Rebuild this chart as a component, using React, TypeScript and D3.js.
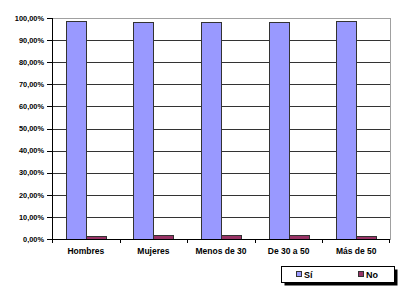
import React from "react";
import * as d3 from "d3";

const categories = ["Hombres", "Mujeres", "Menos de 30", "De 30 a 50", "Más de 50"];
const seriesNames = ["Sí", "No"];
const siValues = [98.8, 98.2, 98.2, 98.4, 98.8];
const noValues = [1.2, 1.8, 1.8, 1.6, 1.2];
const yTicks = [0, 10, 20, 30, 40, 50, 60, 70, 80, 90, 100];
const colors = ["#9999FF", "#993366"];

export default function App() {
  const W = 400, H = 291;
  const left = 52, right = 390, top = 18, bottom = 239;
  const x = d3.scaleBand<string>().domain(categories).range([left, right]).paddingInner(0).paddingOuter(0);
  const y = d3.scaleLinear().domain([0, 100]).range([bottom, top]);
  const barW = 20;
  const fmt = (v: number) => v.toFixed(2).replace(".", ",") + "%";
  const font = "'Liberation Sans', Arial, sans-serif";
  const series = [siValues, noValues];

  return (
    <svg width={W} height={H} style={{ position: "absolute", left: 0, top: 0, background: "#fff" }}>
      <rect x={left} y={top} width={right - left} height={bottom - top} fill="#fff" stroke="#A0A0A0" strokeWidth={1} shapeRendering="crispEdges" />
      {yTicks.filter(t => t > 0 && t < 100).map(t => (
        <line key={t} x1={left} x2={right} y1={Math.round(y(t)) + 0.5} y2={Math.round(y(t)) + 0.5} stroke="#333" strokeWidth={1} shapeRendering="crispEdges" />
      ))}
      {categories.map((c, i) => {
        const cx = (x(c) as number) + x.bandwidth() / 2;
        return series.map((s, j) => {
          const bx = cx - barW + j * barW;
          return (
            <rect key={c + j} x={Math.round(bx) + 0.5} y={Math.round(y(s[i])) + 0.5} width={barW}
              height={Math.round(bottom - y(s[i]))} fill={colors[j]} stroke="#333" strokeWidth={1} shapeRendering="crispEdges" />
          );
        });
      })}
      <line x1={left + 0.5} x2={left + 0.5} y1={top} y2={bottom} stroke="#000" shapeRendering="crispEdges" />
      <line x1={left} x2={right} y1={bottom + 0.5} y2={bottom + 0.5} stroke="#000" shapeRendering="crispEdges" />
      {yTicks.map(t => (
        <g key={t}>
          <line x1={left - 5} x2={left} y1={Math.round(y(t)) + 0.5} y2={Math.round(y(t)) + 0.5} stroke="#000" shapeRendering="crispEdges" />
          <text x={44} y={y(t) + 2.7} textAnchor="end" fontFamily={font} fontWeight="bold" fontSize={7.4} fill="#000">{fmt(t)}</text>
        </g>
      ))}
      {categories.map(c => (
        <line key={"t" + c} x1={Math.round(x(c) as number) + 0.5} x2={Math.round(x(c) as number) + 0.5} y1={bottom} y2={bottom + 4} stroke="#000" shapeRendering="crispEdges" />
      ))}
      <line x1={right - 0.5} x2={right - 0.5} y1={bottom} y2={bottom + 4} stroke="#000" shapeRendering="crispEdges" />
      {categories.map(c => (
        <text key={"l" + c} x={(x(c) as number) + x.bandwidth() / 2} y={254} textAnchor="middle" fontFamily={font} fontWeight="bold" fontSize={8.5} fill="#000">{c}</text>
      ))}
      <rect x={284.5} y={269.5} width={113} height={16} fill="#000" />
      <rect x={281.5} y={266.5} width={113} height={16} fill="#fff" stroke="#000" strokeWidth={1} shapeRendering="crispEdges" />
      {seriesNames.map((n, j) => (
        <g key={n}>
          <rect x={296.5 + j * 62} y={271.5} width={5} height={5} fill={colors[j]} stroke="#333" strokeWidth={1} shapeRendering="crispEdges" />
          <text x={304 + j * 62} y={277.5} fontFamily={font} fontWeight="bold" fontSize={9} fill="#000">{n}</text>
        </g>
      ))}
    </svg>
  );
}
